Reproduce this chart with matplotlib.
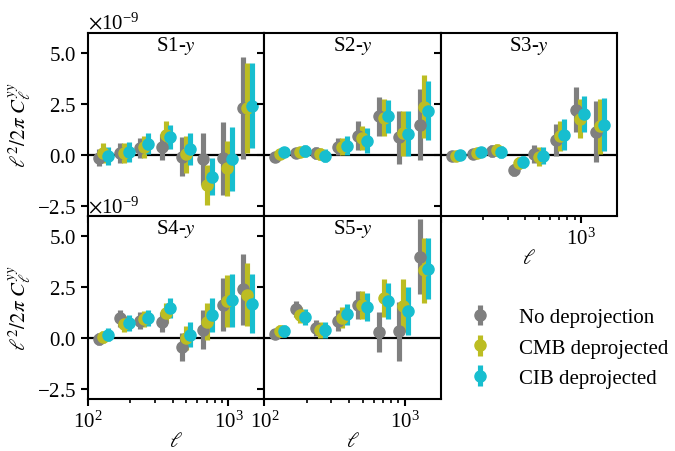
import numpy as np
import matplotlib
matplotlib.use("Agg")
import matplotlib.pyplot as plt
from matplotlib import ticker

plt.rcParams['font.family'] = 'Liberation Serif'
plt.rcParams['mathtext.fontset'] = 'stix'
plt.rcParams['font.size'] = 15
plt.rcParams['axes.formatter.use_mathtext'] = True
plt.rcParams['axes.linewidth'] = 1.5
plt.rcParams['xtick.major.width'] = 1.5
plt.rcParams['ytick.major.width'] = 1.5
plt.rcParams['xtick.minor.width'] = 1.2
plt.rcParams['xtick.major.size'] = 5
plt.rcParams['ytick.major.size'] = 5
plt.rcParams['xtick.minor.size'] = 3

# bin centres in multipole
ell = np.array([120, 169, 234, 335, 465, 660, 915, 1275])

# values in units of 1e-9
s1_none = [-0.13, 0.08, 0.33, 0.40, -0.08, -0.20, -0.16, 2.30]
s1_none_err = [0.40, 0.50, 0.50, 0.65, 0.95, 1.30, 1.80, 2.50]
s1_cmb = [0.08, 0.08, 0.40, 0.98, 0.03, -1.48, -0.66, 2.30]
s1_cmb_err = [0.50, 0.50, 0.55, 0.70, 0.90, 1.00, 1.35, 2.20]
s1_cib = [-0.05, 0.16, 0.56, 0.89, 0.30, -1.07, -0.20, 2.43]
s1_cib_err = [0.45, 0.50, 0.50, 0.60, 0.80, 0.90, 1.55, 2.10]

s2_none = [-0.08, 0.10, 0.11, 0.41, 0.95, 1.89, 0.87, 1.48]
s2_none_err = [0.20, 0.25, 0.30, 0.40, 0.70, 0.95, 1.30, 1.75]
s2_cmb = [0.03, 0.16, 0.03, 0.41, 0.82, 1.84, 1.07, 2.38]
s2_cmb_err = [0.20, 0.25, 0.30, 0.40, 0.60, 0.90, 1.10, 1.55]
s2_cib = [0.13, 0.20, -0.03, 0.46, 0.70, 1.90, 1.05, 2.17]
s2_cib_err = [0.20, 0.30, 0.30, 0.45, 0.60, 0.80, 1.10, 1.45]

s3_none = [-0.07, 0.05, 0.21, -0.74, 0.05, 0.74, 2.23, 1.13]
s3_none_err = [0.20, 0.25, 0.30, 0.30, 0.45, 0.80, 1.10, 1.50]
s3_cmb = [-0.04, 0.08, 0.26, -0.40, -0.08, 0.92, 1.79, 1.41]
s3_cmb_err = [0.20, 0.25, 0.30, 0.30, 0.45, 0.75, 0.95, 1.35]
s3_cib = [0.00, 0.15, 0.13, -0.34, -0.03, 1.00, 2.02, 1.49]
s3_cib_err = [0.20, 0.25, 0.30, 0.30, 0.40, 0.75, 0.90, 1.30]

s4_none = [-0.03, 0.96, 0.86, 0.80, -0.45, 0.41, 1.63, 2.40]
s4_none_err = [0.30, 0.40, 0.40, 0.50, 0.70, 0.95, 1.30, 1.75]
s4_cmb = [0.03, 0.70, 0.93, 1.24, 0.00, 0.80, 1.82, 2.12]
s4_cmb_err = [0.30, 0.40, 0.40, 0.50, 0.60, 0.90, 1.30, 1.55]
s4_cib = [0.17, 0.75, 1.00, 1.49, 0.17, 1.13, 1.86, 1.69]
s4_cib_err = [0.30, 0.40, 0.40, 0.50, 0.60, 0.85, 1.30, 1.45]

s5_none = [0.20, 1.44, 0.50, 0.86, 1.63, 0.30, 0.33, 4.00]
s5_none_err = [0.25, 0.40, 0.40, 0.50, 0.70, 1.00, 1.45, 1.85]
s5_cmb = [0.33, 1.13, 0.41, 1.00, 1.63, 1.96, 1.58, 3.32]
s5_cmb_err = [0.30, 0.40, 0.40, 0.50, 0.70, 0.95, 1.30, 1.60]
s5_cib = [0.36, 1.03, 0.41, 1.16, 1.53, 1.82, 1.33, 3.40]
s5_cib_err = [0.30, 0.40, 0.40, 0.50, 0.70, 0.90, 1.20, 1.50]

panels = ['S1', 'S2', 'S3', 'S4', 'S5']
data = {
    'S1': [(s1_none, s1_none_err), (s1_cmb, s1_cmb_err), (s1_cib, s1_cib_err)],
    'S2': [(s2_none, s2_none_err), (s2_cmb, s2_cmb_err), (s2_cib, s2_cib_err)],
    'S3': [(s3_none, s3_none_err), (s3_cmb, s3_cmb_err), (s3_cib, s3_cib_err)],
    'S4': [(s4_none, s4_none_err), (s4_cmb, s4_cmb_err), (s4_cib, s4_cib_err)],
    'S5': [(s5_none, s5_none_err), (s5_cmb, s5_cmb_err), (s5_cib, s5_cib_err)],
}
labels = ['No deprojection', 'CMB deprojected', 'CIB deprojected']
colors = ['tab:gray', 'tab:olive', 'tab:cyan']
shifts = [1.0, 1.07, 1.15]
scale = 1e-9

fig, axes = plt.subplots(2, 3, figsize=(6.75, 4.52), dpi=100)
fig.subplots_adjust(left=0.1304, right=0.914, top=0.925, bottom=0.115,
                    wspace=0, hspace=0)
axes[1, 2].remove()

flat = [axes[0, 0], axes[0, 1], axes[0, 2], axes[1, 0], axes[1, 1]]
handles = []
for i, (ax, name) in enumerate(zip(flat, panels)):
    ax.axhline(0, color='k', lw=1.6, zorder=1)
    for (vals, errs), c, sh, lab in zip(data[name], colors, shifts, labels):
        h = ax.errorbar(ell * sh, np.array(vals) * scale,
                        yerr=np.array(errs) * scale, fmt='o', color=c,
                        ms=8, elinewidth=3.7, capsize=0, label=lab, zorder=2)
        if i == 0:
            handles.append(h)
    ax.set_xscale('log')
    ax.set_xlim(100, 1800)
    ax.set_ylim(-3e-9, 6e-9)
    ax.set_yticks(np.array([-2.5, 0, 2.5, 5.0]) * scale)
    ax.text(0.5, 0.935, name + '-$y$', transform=ax.transAxes,
            ha='center', va='center')
    col = i % 3
    if col != 0:
        ax.tick_params(labelleft=False)
        ax.yaxis.offsetText.set_visible(False)
    else:
        ax.set_ylabel(r'$\ell^2/2\pi\ C_\ell^{yy}$', labelpad=2)
    if i in (0, 1):
        ax.tick_params(labelbottom=False)
    else:
        ax.set_xlabel(r'$\ell$', labelpad=0)

# only 10^3 labelled on S3
axes[0, 2].xaxis.set_major_formatter(ticker.FuncFormatter(
    lambda v, p: r'$\mathdefault{10^{3}}$' if abs(v - 1000) < 1 else ''))

fig.legend(handles, labels, loc='center', bbox_to_anchor=(0.837, 0.228),
           frameon=False, labelspacing=0.52, handletextpad=1.0,
           handlelength=1.8)

fig.savefig('out.png', dpi=100)
